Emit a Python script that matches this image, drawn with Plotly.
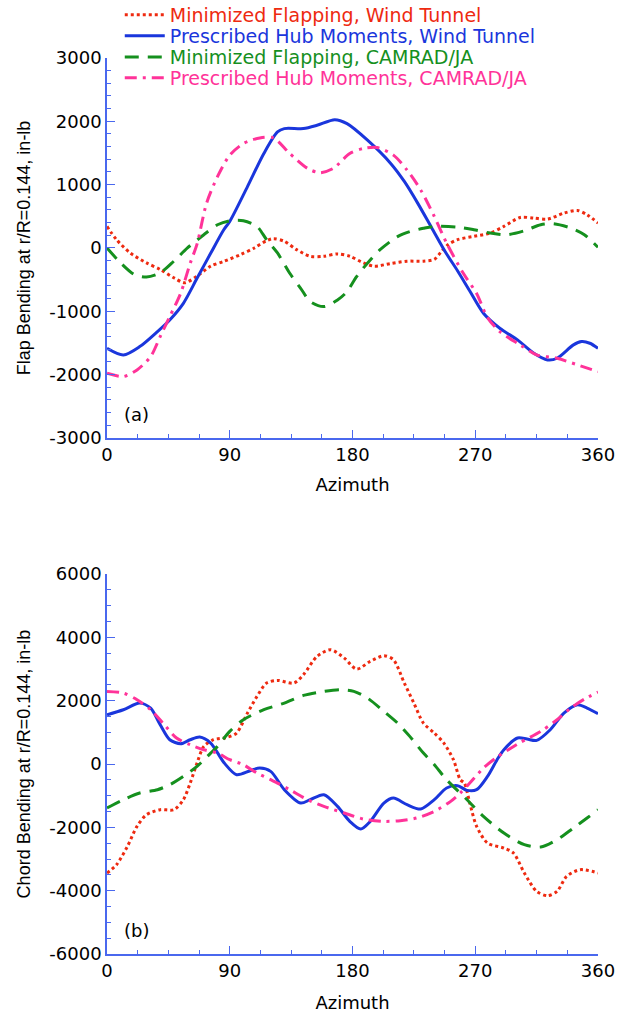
import plotly.graph_objects as go

# ---------------- data: (a) flap bending ----------------
az_a_mfwt = [0,7,17,29,39,49,57,66,76,86,98,108,117,122,130,139,149,159,169,178,188,196,208,220,232,240,245,250,257,269,281,291,303,313,323,335,345,352,360]
val_a_mfwt = [340,131,-79,-236,-340,-471,-550,-445,-288,-209,-105,0,115,147,105,-26,-131,-131,-94,-131,-236,-288,-246,-209,-209,-180,-60,50,131,183,236,340,482,471,455,550,592,524,393]

az_a_phwt = [0,12,24,37,46,56,66,76,85.5,90,103,115,125,130,144,154,167,176,191,208,218,228,238,248,257,266,276,288,301,313,323,330,342,348,354,360]
val_a_phwt = [-1584,-1690,-1558,-1320,-1137,-874,-480,-84,284,419,969,1492,1832,1885,1885,1937,2026,1963,1702,1335,1050,700,320,-60,-360,-680,-1031,-1268,-1452,-1663,-1768,-1742,-1531,-1479,-1505,-1584]

az_a_mfca = [0,10,20,29,39,49,59,71,81,90,100,110,117,125,134,142,149,159,169,176,183,193,200,213,222,232,240,257,269,281,293,306,318,327,340,350,360]
val_a_mfca = [0,-236,-419,-460,-393,-209,0,209,366,429,429,340,131,-79,-400,-637,-847,-926,-821,-689,-453,-189,-32,179,258,310,340,330,288,236,209,272,366,382,314,209,10]

az_a_phca = [0,12,22,32,39,46,54,61,66,73,81,90,100,112,122,134,147,156,166,178,188,198,210,220,230,240,249,261,271,279,288,303,315,330,345,360]
val_a_phca = [-1979,-2031,-1926,-1716,-1400,-1084,-716,-242,60,707,1126,1466,1649,1738,1738,1492,1257,1188,1257,1492,1571,1586,1466,1230,916,497,78,-393,-720,-1100,-1321,-1531,-1689,-1742,-1847,-1953]

# ---------------- data: (b) chord bending ----------------
az_b_mfwt = [0,7,15,22,29,39,49,56,61,66,71,78,88,95,103,110,117,125,137,144,154,164,174,183,193,203,210,218,225,232,240,247,254,259,262,266,271,279,291,298,306,315,323,330,337,347,360]
val_b_mfwt = [-3442,-3179,-2600,-1968,-1600,-1442,-1442,-1126,-600,32,558,768,842,979,1610,2137,2558,2642,2558,2821,3400,3610,3347,3000,3242,3421,3295,2558,1926,1295,979,663,137,-495,-600,-1232,-1968,-2495,-2653,-2810,-3442,-4021,-4158,-4021,-3547,-3337,-3442]

az_b_phwt = [0,12,24,32,39,46,54,61,68,76,86,95,105,112,120,130,142,149,159,169,178,186,193,203,210,220,230,240,249,257,264,271,279,286,291,301,308,315,325,335,345,352,360]
val_b_phwt = [1558,1716,1926,1768,1242,768,642,768,852,663,32,-337,-210,-126,-231,-810,-1232,-1126,-968,-1337,-1810,-2053,-1810,-1232,-1074,-1284,-1421,-1126,-758,-684,-832,-810,-389,137,453,821,789,747,1084,1610,1873,1768,1589]

az_b_mfca = [0,12,24,37,46,56,66,76,81,90,100,115,130,144,159,171,181,191,203,213,222,232,240,249,264,276,291,306,318,330,342,352,360]
val_b_mfca = [-1389,-1126,-916,-810,-653,-389,-74,347,558,1032,1400,1716,1926,2168,2295,2347,2295,2084,1663,1295,874,347,-21,-495,-1126,-1653,-2179,-2547,-2621,-2389,-2021,-1705,-1442]

az_b_phca = [0,12,22,32,42,51,61,71,81,90,100,110,120,125,134,147,159,174,188,203,215,227,240,252,259,266,276,286,296,303,318,330,340,350,360]
val_b_phca = [2295,2242,2031,1716,1242,821,610,453,347,137,-21,-284,-495,-600,-810,-1126,-1337,-1547,-1737,-1810,-1790,-1705,-1495,-1179,-916,-600,-126,220,500,680,1031,1400,1768,2050,2274]

names = ["Minimized Flapping, Wind Tunnel", "Prescribed Hub Moments, Wind Tunnel",
         "Minimized Flapping, CAMRAD/JA", "Prescribed Hub Moments, CAMRAD/JA"]
colors = ["#ee2a10", "#1a36dc", "#15901e", "#ff3399"]
dashes = ["dot", "solid", "14px,9px", "12px,6px,3px,6px"]
widths = [3, 3, 3, 3]

x_ticks = [0, 90, 180, 270, 360]
y_ticks_a = [-3000, -2000, -1000, 0, 1000, 2000, 3000]
y_ticks_b = [-6000, -4000, -2000, 0, 2000, 4000, 6000]

WFONT = "DejaVu Sans, Verdana, sans-serif"      # wide horizontal text
VFONT = "Arial, Liberation Sans, sans-serif"   # rotated titles
AXC = "#4a68ee"

legend_ids = ["legend", "legend2", "legend3", "legend4"]
legend_rows_y = [1.048, 1.0246, 1.001, 0.9777]

fig = go.Figure()
series_a = [(az_a_mfwt, val_a_mfwt), (az_a_phwt, val_a_phwt), (az_a_mfca, val_a_mfca), (az_a_phca, val_a_phca)]
series_b = [(az_b_mfwt, val_b_mfwt), (az_b_phwt, val_b_phwt), (az_b_mfca, val_b_mfca), (az_b_phca, val_b_phca)]

for i, (xs, ys) in enumerate(series_a):
    fig.add_trace(go.Scatter(x=xs, y=ys, mode="lines", xaxis="x", yaxis="y",
                             name=names[i], legend=legend_ids[i],
                             line=dict(color=colors[i], dash=dashes[i], width=widths[i], shape="spline", smoothing=0.8),
                             showlegend=True))
for i, (xs, ys) in enumerate(series_b):
    fig.add_trace(go.Scatter(x=xs, y=ys, mode="lines", xaxis="x2", yaxis="y2",
                             name=names[i],
                             line=dict(color=colors[i], dash=dashes[i], width=widths[i], shape="spline", smoothing=0.8),
                             showlegend=False))

def xax(anchor, standoff):
    return dict(domain=[0, 1], anchor=anchor, range=[0, 360], tickmode="array",
                tickvals=x_ticks, ticktext=[str(v) for v in x_ticks],
                showline=True, linecolor=AXC, linewidth=1.5, ticks="inside", ticklen=8,
                tickcolor=AXC, tickwidth=1.2, showgrid=False, zeroline=False,
                minor=dict(dtick=22.5, tick0=0, ticks="inside", ticklen=4, tickcolor=AXC, tickwidth=1.2, showgrid=False),
                tickfont=dict(size=18, color="black", family=WFONT),
                title=dict(text="Azimuth", font=dict(size=18, color="black", family=WFONT), standoff=standoff))

def yax(anchor, dom, rng, tv, mdt, title):
    return dict(domain=dom, anchor=anchor, range=rng, tickmode="array",
                tickvals=tv, ticktext=[str(v) for v in tv],
                showline=True, linecolor=AXC, linewidth=1.5, ticks="inside", ticklen=8,
                tickcolor=AXC, tickwidth=1.2, showgrid=False, zeroline=False,
                minor=dict(dtick=mdt, tick0=0, ticks="inside", ticklen=4, tickcolor=AXC, tickwidth=1.2, showgrid=False),
                tickfont=dict(size=18, color="black", family=WFONT),
                title=dict(text=title, font=dict(size=18, color="black", family=VFONT), standoff=14))

layout_kw = dict(
    width=640, height=1014,
    margin=dict(l=107, r=42, t=58, b=60, autoexpand=False),
    paper_bgcolor="white", plot_bgcolor="white",
    font=dict(family=WFONT, size=18, color="black"),
    xaxis=xax("y", 14),
    yaxis=yax("x", [0.576, 1.0], [-3000, 3000], y_ticks_a, 200, "Flap Bending at r/R=0.144, in-lb"),
    xaxis2=xax("y2", 16),
    yaxis2=yax("x2", [0.0, 0.424], [-6000, 6000], y_ticks_b, 500, "Chord Bending at r/R=0.144, in-lb"),
    annotations=[
        dict(text="(a)", xref="x domain", yref="y domain", x=0.03, y=0.03, xanchor="left", yanchor="bottom",
             showarrow=False, font=dict(size=18, color="black", family=WFONT)),
        dict(text="(b)", xref="x2 domain", yref="y2 domain", x=0.03, y=0.03, xanchor="left", yanchor="bottom",
             showarrow=False, font=dict(size=18, color="black", family=WFONT)),
    ],
)
for i, lid in enumerate(legend_ids):
    layout_kw[lid] = dict(x=0.026, y=legend_rows_y[i], xanchor="left", yanchor="middle",
                          bgcolor="rgba(0,0,0,0)", itemwidth=40,
                          font=dict(size=19, family=WFONT, color=colors[i]))
fig.update_layout(**layout_kw)

fig.write_html("out.html")
